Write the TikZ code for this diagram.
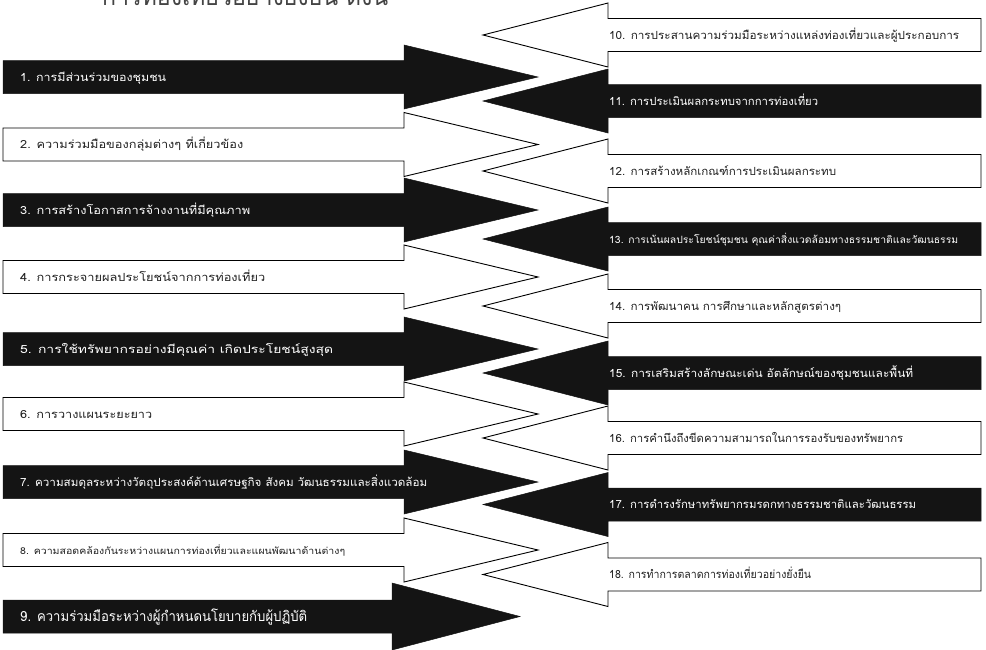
\documentclass[tikz,border=0pt]{standalone}
\usepackage{fontspec}
\usepackage{graphicx}
\newfontfamily\thai[Script=Thai]{Loma}
\definecolor{arrowblack}{HTML}{141414}
\definecolor{textgray}{HTML}{222222}
\definecolor{titlegray}{HTML}{444444}
\tikzset{
  blk/.style={fill=arrowblack, draw=arrowblack, line width=0.5pt, line join=miter},
  wht/.style={fill=white, draw=black, line width=0.9pt, line join=miter},
  lbl/.style={anchor=base west, inner sep=0pt, font=\thai\fontsize{11.2}{13}\selectfont},
  onblk/.style={lbl, text=white},
  onwht/.style={lbl, text=textgray},
}
% name, centre y, shape style, text style, text width, text
\newcommand\LArr[6]{%
  \path[#3] (3,#2-16.5) -- (404,#2-16.5) -- (404,#2-32) -- (538,#2) -- (404,#2+32) -- (404,#2+16.5) -- (3,#2+16.5) -- cycle;
  \node[#4] (#1) at (20,#2+4) {\resizebox{#5pt}{\height}{#6}};}
\newcommand\RArr[6]{%
  \path[#3] (981,#2-16.5) -- (608,#2-16.5) -- (608,#2-32) -- (483,#2) -- (608,#2+32) -- (608,#2+16.5) -- (981,#2+16.5) -- cycle;
  \node[#4] (#1) at (609,#2+4) {\resizebox{#5pt}{\height}{#6}};}
\begin{document}
\begin{tikzpicture}[x=1pt,y=-1pt]
\useasboundingbox (0,0) rectangle (986,649);
% title (cut off at top, as in the reference)
\node[anchor=base west, inner sep=0pt, text=titlegray, font=\thai\fontsize{26}{30}\selectfont] (title) at (102,5) {\resizebox{286pt}{\height}{การท่องเที่ยวอย่างยั่งยืน ดังนี้}};
% left column
\LArr{a1}{77}{blk}{onblk}{146}{1. การมีส่วนร่วมของชุมชน}
\LArr{a2}{144.5}{wht}{onwht}{223}{2. ความร่วมมือของกลุ่มต่างๆ ที่เกี่ยวข้อง}
\LArr{a3}{210}{blk}{onblk}{230}{3. การสร้างโอกาสการจ้างงานที่มีคุณภาพ}
\LArr{a4}{277}{wht}{onwht}{245}{4. การกระจายผลประโยชน์จากการท่องเที่ยว}
\LArr{a5}{349}{blk}{onblk}{313}{5. การใช้ทรัพยากรอย่างมีคุณค่า เกิดประโยชน์สูงสุด}
\LArr{a6}{414}{wht}{onwht}{132}{6. การวางแผนระยะยาว}
\LArr{a7}{482}{blk}{onblk}{407}{7. ความสมดุลระหว่างวัตถุประสงค์ด้านเศรษฐกิจ สังคม วัฒนธรรมและสิ่งแวดล้อม}
\LArr{a8}{550}{wht}{onwht,font=\thai\fontsize{9.5}{11}\selectfont}{325}{8. ความสอดคล้องกันระหว่างแผนการท่องเที่ยวและแผนพัฒนาด้านต่างๆ}
% arrow 9 (slightly larger head)
\path[blk] (3,600) -- (392,600) -- (392,583) -- (520,616.5) -- (392,650) -- (392,633) -- (3,633) -- cycle;
\node[onblk, font=\thai\fontsize{14}{16}\selectfont] (a9) at (20,621.5) {\resizebox{287pt}{\height}{9. ความร่วมมือระหว่างผู้กำหนดนโยบายกับผู้ปฏิบัติ}};
% right column
\RArr{b10}{35}{wht}{onwht}{350}{10. การประสานความร่วมมือระหว่างแหล่งท่องเที่ยวและผู้ประกอบการ}
\RArr{b11}{101}{blk}{onblk}{209}{11. การประเมินผลกระทบจากการท่องเที่ยว}
\RArr{b12}{171}{wht}{onwht}{227}{12. การสร้างหลักเกณฑ์การประเมินผลกระทบ}
\RArr{b13}{239}{blk}{onblk,font=\thai\fontsize{10}{11}\selectfont}{349}{13. การเน้นผลประโยชน์ชุมชน คุณค่าสิ่งแวดล้อมทางธรรมชาติและวัฒนธรรม}
\RArr{b14}{306}{wht}{onwht}{232}{14. การพัฒนาคน การศึกษาและหลักสูตรต่างๆ}
\RArr{b15}{373}{blk}{onblk}{304}{15. การเสริมสร้างลักษณะเด่น อัตลักษณ์ของชุมชนและพื้นที่}
\RArr{b16}{438}{wht}{onwht}{294}{16. การคำนึงถึงขีดความสามารถในการรองรับของทรัพยากร}
\RArr{b17}{504.5}{blk}{onblk}{307}{17. การดำรงรักษาทรัพยากรมรดกทางธรรมชาติและวัฒนธรรม}
\RArr{b18}{574.5}{wht}{onwht}{202}{18. การทำการตลาดการท่องเที่ยวอย่างยั่งยืน}
\end{tikzpicture}
\end{document}
